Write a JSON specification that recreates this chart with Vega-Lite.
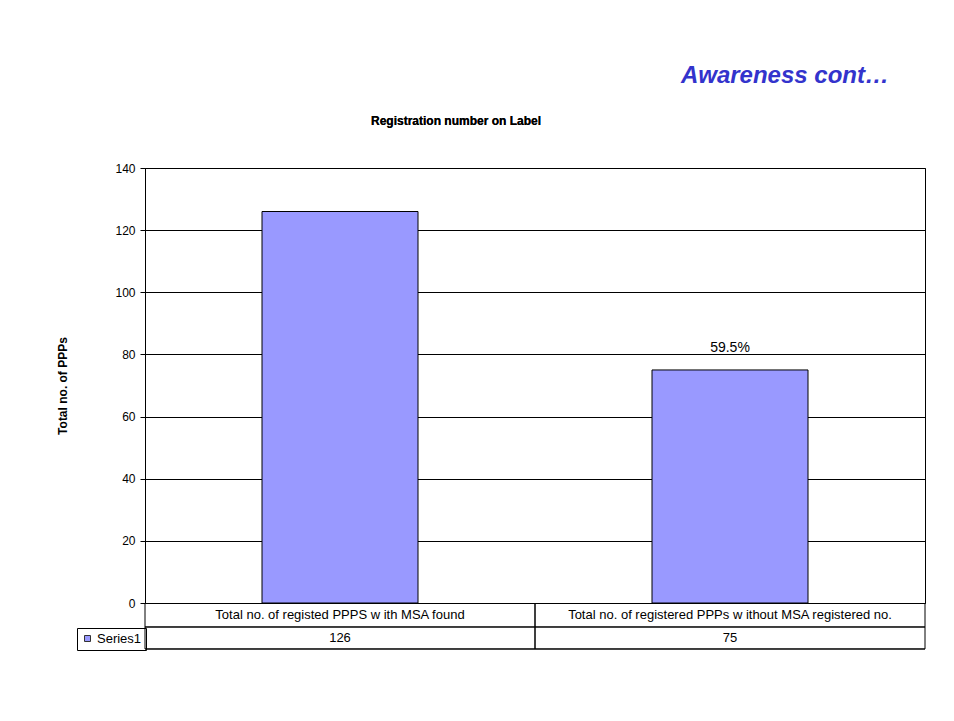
{
  "$schema": "https://vega.github.io/schema/vega-lite/v6.json",
  "width": 780,
  "height": 435,
  "autosize": "none",
  "padding": {"left": 145, "top": 168, "right": 29, "bottom": 118},
  "background": "white",
  "title": {
    "text": "Awareness cont…",
    "anchor": "end",
    "frame": "group",
    "dx": -36,
    "offset": 27,
    "font": "Liberation Sans",
    "fontSize": 24,
    "fontWeight": "bold",
    "fontStyle": "italic",
    "color": "#3333CC"
  },
  "config": {
    "view": {"stroke": "black", "strokeWidth": 1},
    "font": "Liberation Sans"
  },
  "data": {
    "values": [
      {"category": "Total no. of registed PPPS w ith MSA found", "value": 126, "series": "Series1", "note": ""},
      {"category": "Total no. of registered PPPs w ithout MSA registered no.", "value": 75, "series": "Series1", "note": "59.5%"}
    ]
  },
  "layer": [
    {
      "mark": {"type": "bar", "width": {"band": 0.4}, "stroke": "black", "strokeWidth": 1},
      "encoding": {
        "x": {
          "field": "category",
          "type": "nominal",
          "sort": null,
          "scale": {"paddingInner": 0, "paddingOuter": 0},
          "axis": {
            "title": null,
            "ticks": false,
            "domain": false,
            "labelAngle": 0,
            "labelPadding": 5,
            "labelFontSize": 13,
            "labelColor": "black",
            "labelLimit": 0
          }
        },
        "y": {
          "field": "value",
          "type": "quantitative",
          "scale": {"domain": [0, 140]},
          "axis": {
            "values": [0, 20, 40, 60, 80, 100, 120, 140],
            "title": "Total no. of PPPs",
            "titleFontWeight": "bold",
            "titleFontSize": 12,
            "titleColor": "black",
            "titleX": -83,
            "titleBaseline": "middle",
            "labelFontSize": 12,
            "labelColor": "black",
            "labelPadding": 5,
            "tickSize": 5,
            "tickColor": "black",
            "domainColor": "black",
            "gridColor": "black",
            "gridOpacity": 1
          }
        },
        "color": {
          "field": "series",
          "type": "nominal",
          "scale": {"range": ["#9999FF"]},
          "legend": {
            "title": null,
            "orient": "none",
            "legendX": -68,
            "legendY": 460,
            "strokeColor": "black",
            "padding": 4,
            "symbolType": "square",
            "symbolSize": 36,
            "symbolStrokeColor": "#333333",
            "symbolStrokeWidth": 1,
            "labelFontSize": 13,
            "labelColor": "black",
            "labelOffset": 3
          }
        }
      }
    },
    {
      "transform": [{"filter": "datum.note != ''"}],
      "mark": {"type": "text", "baseline": "alphabetic", "dy": -18, "fontSize": 14, "color": "black"},
      "encoding": {
        "x": {"field": "category", "type": "nominal", "sort": null},
        "y": {"field": "value", "type": "quantitative"},
        "text": {"field": "note"}
      }
    },
    {
      "mark": {"type": "text", "baseline": "middle", "fontSize": 13, "color": "black"},
      "encoding": {
        "x": {"field": "category", "type": "nominal", "sort": null},
        "y": {"datum": -11.26},
        "text": {"field": "value"}
      }
    },
    {
      "mark": {"type": "text", "baseline": "middle", "fontSize": 12, "fontWeight": "bold", "color": "black", "dx": -79},
      "encoding": {
        "y": {"datum": 155.2},
        "text": {"value": "Registration number on Label"}
      }
    },
    {
      "mark": {"type": "rule", "color": "black", "strokeWidth": 1},
      "encoding": {"y": {"datum": -7.72}}
    },
    {
      "mark": {"type": "rule", "color": "black", "strokeWidth": 1},
      "encoding": {"y": {"datum": -14.8}}
    },
    {
      "mark": {"type": "rule", "color": "black", "strokeWidth": 1},
      "encoding": {
        "x": {"field": "category", "type": "nominal", "sort": null, "bandPosition": 0},
        "y": {"datum": 0},
        "y2": {"datum": -14.8}
      }
    },
    {
      "mark": {"type": "rule", "color": "black", "strokeWidth": 1},
      "encoding": {
        "x": {"field": "category", "type": "nominal", "sort": null, "bandPosition": 1},
        "y": {"datum": 0},
        "y2": {"datum": -14.8}
      }
    }
  ]
}
